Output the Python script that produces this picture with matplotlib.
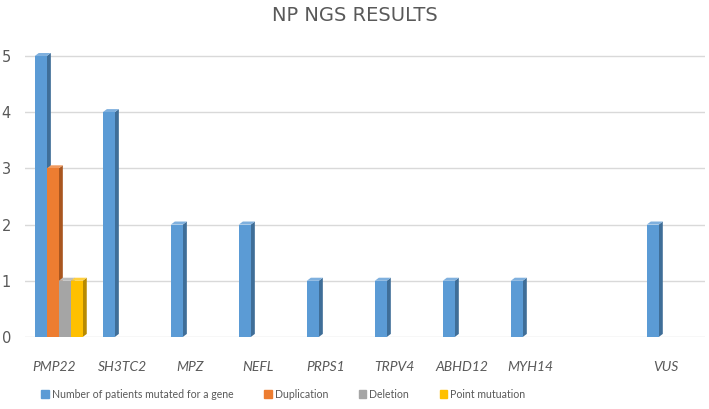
import numpy as np
import matplotlib.pyplot as plt
from matplotlib.patches import Polygon, Patch

# =========================
# DATA
# =========================
genes = ["PMP22", "SH3TC2", "MPZ", "NEFL", "PRPS1", "TRPV4", "ABHD12", "MYH14", "", "VUS"]
patients = [5, 4, 2, 2, 1, 1, 1, 1, 0, 2]
duplication = [3, 0, 0, 0, 0, 0, 0, 0, 0, 0]
deletion = [1, 0, 0, 0, 0, 0, 0, 0, 0, 0]
point_mut = [1, 0, 0, 0, 0, 0, 0, 0, 0, 0]

series_names = ["Number of patients mutated for a gene", "Duplication", "Deletion", "Point mutuation"]
front_colors = ["#5B9BD5", "#ED7D31", "#A5A5A5", "#FFC000"]
side_colors = ["#3F6E98", "#A9561F", "#777777", "#B88A00"]
top_colors = ["#7FB0DE", "#F19A5E", "#BDBDBD", "#FFD040"]

# =========================
# FIGURE
# =========================
fig = plt.figure(figsize=(7.09, 4.09), dpi=100)
ax = fig.add_axes([0.035, 0.176, 0.959, 0.694])

x = np.arange(len(genes))
w = 0.176
start = -0.353
dx = 0.06   # fake depth to the right
dy = 0.055  # fake depth upwards

all_series = [patients, duplication, deletion, point_mut]
for k, vals in enumerate(all_series):
    pos = x + start + w * (k + 0.5)
    vals = np.array(vals, dtype=float)
    keep = vals > 0
    ax.bar(pos[keep], vals[keep], width=w, color=front_colors[k], zorder=3)
    for p, v in zip(pos[keep], vals[keep]):
        r = p + w / 2
        l = p - w / 2
        # right side face
        ax.add_patch(Polygon([(r, 0), (r + dx, dy), (r + dx, v + dy), (r, v)],
                             closed=True, color=side_colors[k], zorder=2 + k * 0.1, lw=0))
        # top face
        ax.add_patch(Polygon([(l, v), (l + dx, v + dy), (r + dx, v + dy), (r, v)],
                             closed=True, color=top_colors[k], zorder=2 + k * 0.1, lw=0))

ax.set_xlim(-0.5, len(genes) - 0.5)
ax.set_ylim(0, 5.05)
ax.set_yticks(range(6))
ax.yaxis.grid(True, color="#D9D9D9", lw=1, zorder=0)
ax.set_axisbelow(True)
for s in ax.spines.values():
    s.set_visible(False)
ax.tick_params(length=0, colors="#595959")
ax.tick_params(axis="y", labelsize=10.5, pad=10)
ax.set_xticks(x - 0.07)
ax.set_xticklabels(genes, fontsize=10, style="italic", color="#595959", family="Lato")
ax.tick_params(axis="x", pad=17)

fig.suptitle("NP NGS RESULTS", y=0.985, fontsize=14, color="#595959")

handles = [Patch(color=c) for c in front_colors]
fig.legend(handles, series_names, loc="lower left", bbox_to_anchor=(0.045, 0.0),
           ncol=4, frameon=False, prop={"family": "Lato", "size": 7.6},
           handlelength=0.7, handleheight=0.7,
           handletextpad=0.3, columnspacing=2.9, labelcolor="#595959")

fig.savefig("out.png", dpi=100)
